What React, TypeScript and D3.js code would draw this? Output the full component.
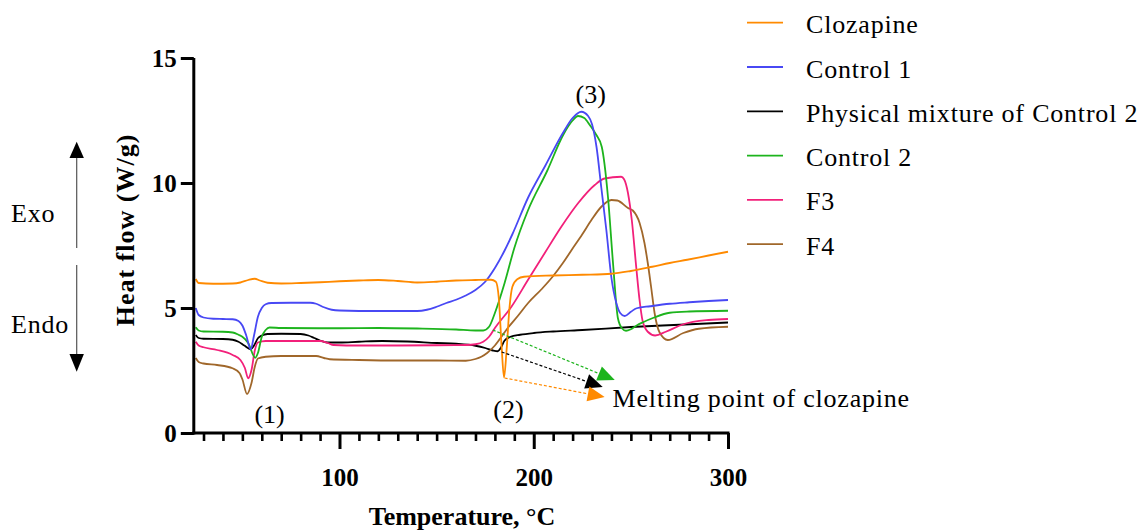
import React, { useEffect, useRef } from 'react';
import * as d3 from 'd3';

const W = 1145;
const H = 532;

// DSC thermograms: [temperature °C, heat flow W/g]
const clozapine: [number, number][] = [
  [26, 6.16], [27.5, 6.0], [35, 5.97], [45, 5.98], [49, 6.02], [53, 6.12], [56.4, 6.17], [59, 6.1],
  [63, 6.01], [70, 5.98], [80, 6.0], [90, 6.03], [100, 6.07], [110, 6.1], [120, 6.12], [130, 6.08],
  [140, 6.02], [150, 6.05], [160, 6.1], [170, 6.12], [178, 6.13], [180.5, 6.05], [182, 5.4],
  [183.5, 3.4], [184.7, 2.22], [186, 3.3], [187.5, 5.0], [189, 5.85], [191.5, 6.15], [195, 6.25],
  [210, 6.3], [225, 6.33], [240, 6.37], [250, 6.48], [261, 6.65], [270, 6.8], [279, 6.93],
  [290, 7.1], [300, 7.25],
];

const control1: [number, number][] = [
  [26, 5.0], [27.5, 4.72], [30, 4.62], [35, 4.57], [40, 4.56], [45, 4.55], [48, 4.48], [50, 4.3],
  [52, 3.9], [54.3, 3.35], [56, 3.9], [58, 4.65], [60, 5.0], [62, 5.15], [65, 5.2], [75, 5.21],
  [85, 5.21], [88, 5.17], [92, 5.03], [96, 4.93], [100, 4.9], [120, 4.88], [140, 4.88], [145, 4.93],
  [150, 5.05], [155, 5.2], [160, 5.33], [165, 5.5], [170, 5.72], [175, 6.05], [180, 6.6], [185, 7.3],
  [189, 7.95], [197, 9.4], [206, 10.7], [215, 12.0], [220, 12.6], [224.5, 12.85], [228, 12.68],
  [230, 12.35], [232.3, 11.45], [234.8, 9.8], [237.4, 8.1], [240, 6.2], [242.5, 5.2], [244.5, 4.8],
  [246.8, 4.68], [250, 4.85], [253, 4.99], [260, 5.07], [270, 5.17], [280, 5.23], [290, 5.28],
  [300, 5.32],
];

const physicalMixture: [number, number][] = [
  [26, 3.92], [27.5, 3.8], [30, 3.77], [40, 3.76], [45, 3.73], [48, 3.65], [51, 3.5], [54.3, 3.35],
  [56, 3.5], [58, 3.79], [60, 3.9], [63, 3.96], [70, 3.97], [80, 3.96], [84, 3.9], [87, 3.8],
  [90, 3.7], [94, 3.62], [100, 3.62], [110, 3.65], [122, 3.68], [135, 3.66], [150, 3.6], [160, 3.57],
  [170, 3.49], [175, 3.4], [179, 3.3], [181.5, 3.27], [183, 3.4], [185, 3.7], [188, 3.85],
  [193, 3.93], [200, 4.0], [210, 4.06], [225, 4.12], [250, 4.24], [275, 4.33], [300, 4.42],
];

const control2: [number, number][] = [
  [26, 4.23], [27.5, 4.1], [30, 4.06], [40, 4.05], [45, 4.02], [48, 3.93], [50, 3.85], [53, 3.6],
  [56.6, 3.01], [58, 3.2], [60, 3.85], [62, 4.12], [64, 4.22], [70, 4.2], [90, 4.19], [100, 4.19],
  [120, 4.2], [140, 4.18], [160, 4.14], [170, 4.1], [174, 4.1], [177, 4.25], [180, 4.8], [185, 6.0],
  [190, 7.4], [197, 8.9], [207, 10.5], [215, 11.9], [220, 12.5], [222.8, 12.68], [226, 12.6],
  [229, 12.3], [232, 11.95], [235, 11.45], [238.2, 9.45], [240.8, 6.8], [243.3, 4.6], [245.5, 4.18],
  [247.5, 4.09], [250, 4.15], [253, 4.3], [256, 4.42], [262, 4.62], [270, 4.81], [280, 4.86],
  [300, 4.89],
];

const f3: [number, number][] = [
  [26, 3.65], [27.5, 3.5], [30, 3.43], [37, 3.32], [45, 3.12], [49, 2.92], [51.3, 2.6], [53, 2.19],
  [54.7, 2.52], [56.4, 3.3], [58, 3.62], [62, 3.68], [75, 3.68], [90, 3.68], [94, 3.6], [97, 3.52],
  [110, 3.5], [130, 3.5], [150, 3.51], [165, 3.52], [170, 3.55], [174, 3.65], [177, 3.85], [180, 4.2],
  [188.5, 5.05], [197, 6.12], [205.6, 7.19], [214.2, 8.25], [222.8, 9.19], [231.4, 9.92],
  [236.5, 10.18], [245, 10.25], [246.5, 10.15], [248.5, 9.6], [250.5, 8.5], [252.8, 6.6],
  [254.5, 5.3], [256, 4.5], [258.7, 4.05], [262.5, 3.9], [268, 4.05], [277, 4.35], [290, 4.52],
  [300, 4.56],
];

const f4: [number, number][] = [
  [26, 3.0], [27.5, 2.84], [30, 2.78], [37, 2.72], [45, 2.59], [48.5, 2.4], [50, 2.15], [52.4, 1.56],
  [54.7, 2.0], [56.4, 2.65], [58, 2.98], [62, 3.05], [70, 3.08], [80, 3.08], [88, 3.08], [92, 3.0],
  [95, 2.95], [110, 2.92], [130, 2.9], [150, 2.9], [165, 2.89], [170, 2.96], [173, 3.05], [176, 3.2],
  [180, 3.5], [186.8, 4.22], [192, 4.7], [197, 5.19], [204, 5.75], [210, 6.28], [215, 6.8],
  [219.5, 7.32], [225, 7.95], [229.7, 8.52], [234.8, 9.05], [240, 9.32], [243, 9.3], [248.5, 9.0],
  [251, 8.9], [254.5, 8.4], [257, 7.6], [258.7, 6.8], [260.4, 5.85], [262.2, 4.8], [264.8, 4.02],
  [269, 3.72], [277, 4.0], [285, 4.17], [300, 4.25],
];

const seriesNames = ['Clozapine', 'Control 1', 'Physical mixture of Control 2', 'Control 2', 'F3', 'F4'];
const seriesColors = ['#FF8A00', '#4848F4', '#000000', '#1DB41D', '#F2207A', '#A0672A'];
const seriesData = [clozapine, control1, physicalMixture, control2, f3, f4];
const drawOrder = [2, 5, 4, 3, 1, 0];

const xMajorTicks = [100, 200, 300];
const yTicks = [0, 5, 10, 15];

const peakLabels = [
  { text: '(1)', t: 64, v: 0.4 },
  { text: '(2)', t: 187, v: 0.6 },
  { text: '(3)', t: 229.3, v: 13.2 },
];

const meltingArrows = [
  { from: [178.9, 4.12], to: [241.7, 2.12], color: '#1DB41D' },
  { from: [183.5, 3.24], to: [235.5, 1.84], color: '#000000' },
  { from: [185, 2.2], to: [236.5, 1.44], color: '#FF8A00' },
];
const meltingText = { text: 'Melting point of clozapine', t: 240.6, v: 1.04 };

const SERIF = '"Liberation Serif", "Times New Roman", serif';

export default function App() {
  const xAxisMinorRef = useRef<SVGGElement>(null);
  const xAxisMajorRef = useRef<SVGGElement>(null);
  const yAxisRef = useRef<SVGGElement>(null);

  const x = d3.scaleLinear().domain([25, 300]).range([193.8, 728]);
  const y = d3.scaleLinear().domain([0, 15]).range([433, 58]);

  const line = d3
    .line<[number, number]>()
    .x((d) => x(d[0]))
    .y((d) => y(d[1]))
    .curve(d3.curveMonotoneX);

  useEffect(() => {
    const minor = d3.range(30, 300, 10).filter((v) => v % 100 !== 0);
    const gMinor = d3.select(xAxisMinorRef.current!);
    gMinor.call(
      d3.axisBottom(x).tickValues(minor).tickSize(8).tickSizeOuter(0).tickFormat(() => '')
    );
    gMinor.select('.domain').remove();
    gMinor.selectAll('line').attr('stroke', '#000').attr('stroke-width', 2.6);

    const gMajor = d3.select(xAxisMajorRef.current!);
    gMajor.call(
      d3.axisBottom(x).tickValues(xMajorTicks).tickSize(16).tickSizeOuter(0).tickPadding(19)
        .tickFormat((d) => String(d))
    );
    gMajor.select('.domain').attr('stroke', '#000').attr('stroke-width', 3)
      .attr('d', `M${x(25) - 1.5},0H${x(300) + 1.5}`);
    gMajor.selectAll('line').attr('stroke', '#000').attr('stroke-width', 3);
    gMajor.selectAll('text')
      .attr('font-family', SERIF).attr('font-size', 25).attr('font-weight', 'bold').attr('fill', '#000');

    const gY = d3.select(yAxisRef.current!);
    gY.call(d3.axisLeft(y).tickValues(yTicks).tickSize(13).tickSizeOuter(0).tickPadding(4)
      .tickFormat((d) => String(d)));
    gY.select('.domain').attr('stroke', '#000').attr('stroke-width', 3)
      .attr('d', `M0,${y(15)}V${y(0) + 1.5}`);
    gY.selectAll('line').attr('stroke', '#000').attr('stroke-width', 3);
    gY.selectAll('text')
      .attr('font-family', SERIF).attr('font-size', 25).attr('font-weight', 'bold').attr('fill', '#000');
  }, []);

  const legendX0 = 747;
  const legendX1 = 783;
  const legendY0 = 22.7;
  const legendStep = 44.3;

  return (
    <svg
      width={W}
      height={H}
      style={{ position: 'absolute', left: 0, top: 0, background: '#fff' }}
      fontFamily={SERIF}
    >
      {/* Exo / Endo direction indicator */}
      <g>
        <line x1={76.7} x2={76.7} y1={157} y2={248} stroke="#555" strokeWidth={1.2} />
        <polygon points="76.7,141.7 69.5,158 83.9,158" fill="#000" />
        <line x1={76.7} x2={76.7} y1={265} y2={355} stroke="#555" strokeWidth={1.2} />
        <polygon points="76.7,371.7 69.5,354 83.9,354" fill="#000" />
        <text x={11} y={221.7} fontSize={26} letterSpacing={0.8} fill="#000">Exo</text>
        <text x={11} y={333} fontSize={26} letterSpacing={0.8} fill="#000">Endo</text>
      </g>

      {/* Axis titles */}
      <text
        transform="translate(133.5,230) rotate(-90)"
        textAnchor="middle"
        fontSize={26}
        fontWeight="bold"
        letterSpacing={1}
        fill="#000"
      >
        Heat flow (W/g)
      </text>
      <text x={462} y={525} textAnchor="middle" fontSize={26} fontWeight="bold" fill="#000">
        Temperature, °C
      </text>

      {/* Curves */}
      <g fill="none" strokeWidth={1.8} strokeLinejoin="round">
        {drawOrder.map((i) => (
          <path key={seriesNames[i]} d={line(seriesData[i]) ?? ''} stroke={seriesColors[i]} />
        ))}
      </g>

      {/* Axes */}
      <g ref={xAxisMinorRef} transform={`translate(0,${y(0)})`} />
      <g ref={xAxisMajorRef} transform={`translate(0,${y(0)})`} />
      <g ref={yAxisRef} transform={`translate(${x(25)},0)`} />

      {/* Melting point arrows */}
      {meltingArrows.map((a, i) => {
        const x0 = x(a.from[0]);
        const y0 = y(a.from[1]);
        const x1 = x(a.to[0]);
        const y1 = y(a.to[1]);
        const ang = Math.atan2(y1 - y0, x1 - x0);
        const len = 17;
        const hw = 7.5;
        const bx = x1 - len * Math.cos(ang);
        const by = y1 - len * Math.sin(ang);
        const px = -Math.sin(ang) * hw;
        const py = Math.cos(ang) * hw;
        return (
          <g key={i}>
            <line x1={x0} y1={y0} x2={bx} y2={by} stroke={a.color} strokeWidth={1.2} strokeDasharray="3,2" />
            <polygon
              points={`${x1},${y1} ${bx + px},${by + py} ${bx - px},${by - py}`}
              fill={a.color}
            />
          </g>
        );
      })}
      <text x={x(meltingText.t)} y={y(meltingText.v)} fontSize={26} letterSpacing={0.8} fill="#000">
        {meltingText.text}
      </text>

      {/* Peak labels */}
      {peakLabels.map((p) => (
        <text key={p.text} x={x(p.t)} y={y(p.v)} textAnchor="middle" fontSize={26} fill="#000">
          {p.text}
        </text>
      ))}

      {/* Legend */}
      {seriesNames.map((name, i) => {
        const ly = legendY0 + i * legendStep;
        return (
          <g key={name}>
            <line x1={legendX0} x2={legendX1} y1={ly} y2={ly} stroke={seriesColors[i]} strokeWidth={1.8} />
            <text x={806} y={ly + 10.5} fontSize={26} letterSpacing={0.8} fill="#000">
              {name}
            </text>
          </g>
        );
      })}
    </svg>
  );
}
